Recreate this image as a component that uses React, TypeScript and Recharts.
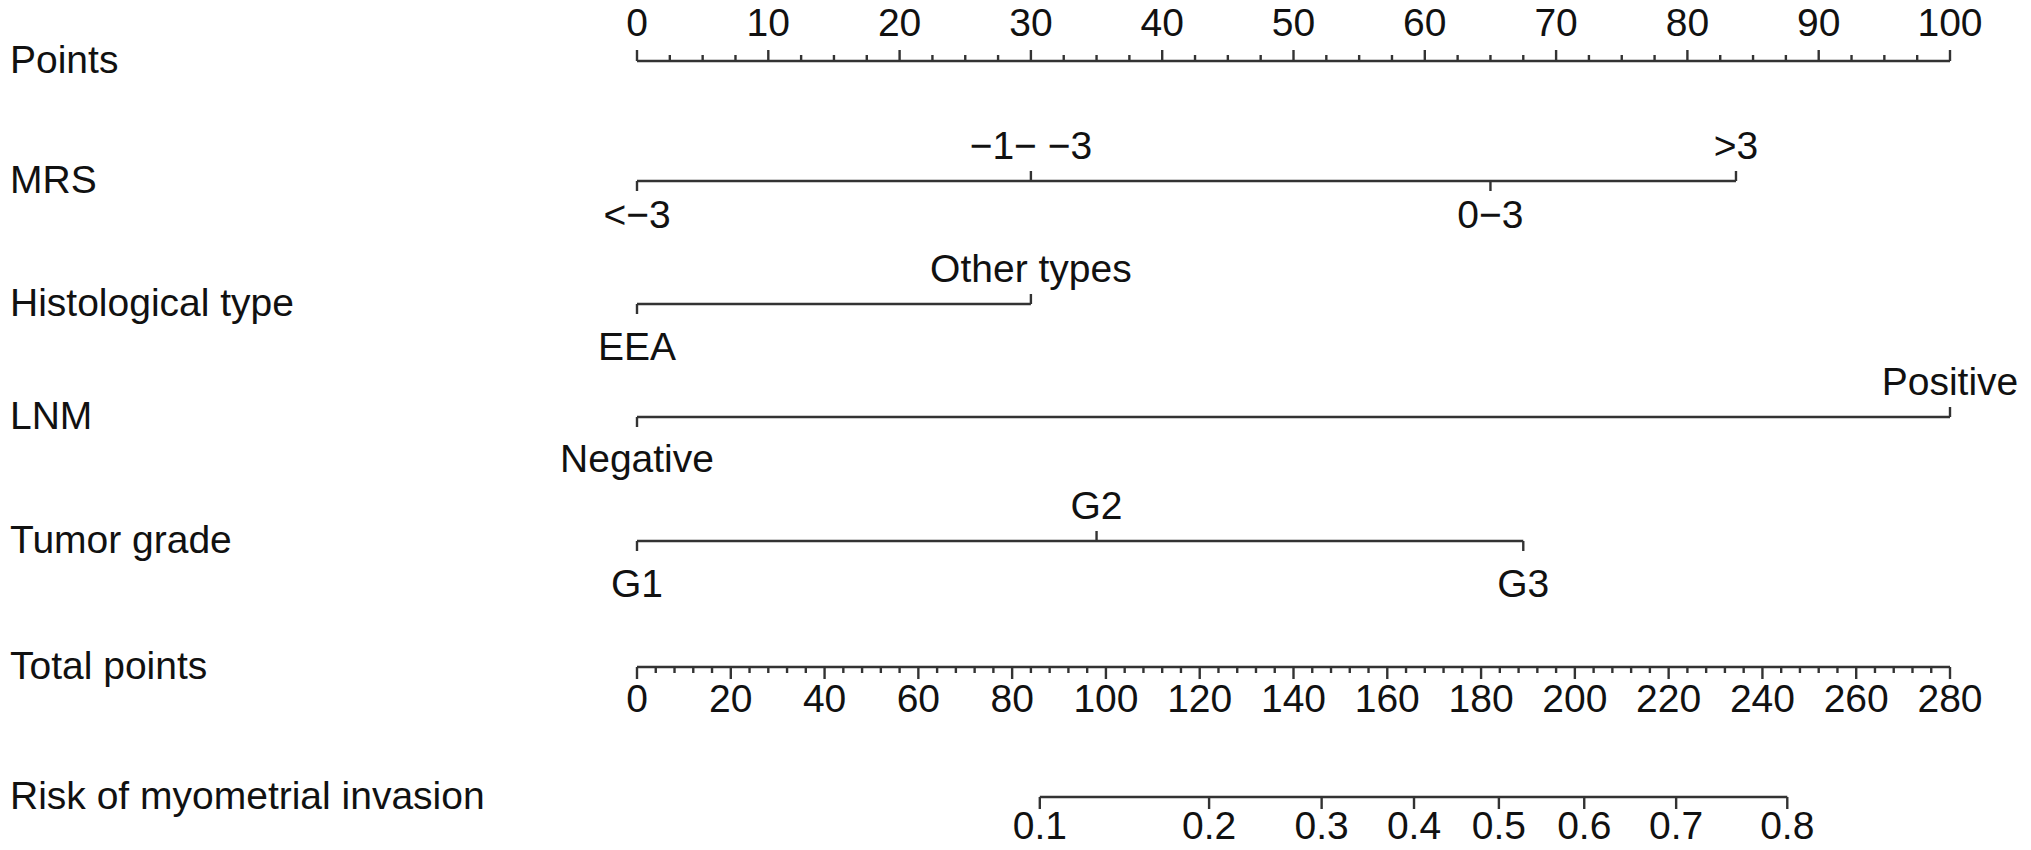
import { ComposedChart, Scatter, XAxis, YAxis } from 'recharts';

const rowNames = [
  'Points',
  'MRS',
  'Histological type',
  'LNM',
  'Tumor grade',
  'Total points',
  'Risk of myometrial invasion',
];

// Points scale: ticks every 2.5, labelled every 10
const pointTicks = Array.from({ length: 41 }, (_, i) => i * 2.5);

const mrsLevels = ['<−3', '−1− −3', '0−3', '>3'];
const mrsPoints = [0, 30, 65, 83.7];

const histLevels = ['EEA', 'Other types'];
const histPoints = [0, 30];

const lnmLevels = ['Negative', 'Positive'];
const lnmPoints = [0, 100];

const gradeLevels = ['G1', 'G2', 'G3'];
const gradePoints = [0, 35, 67.5];

// Total points scale: ticks every 4, labelled every 20
const totalTicks = Array.from({ length: 71 }, (_, i) => i * 4);

const riskValues = [0.1, 0.2, 0.3, 0.4, 0.5, 0.6, 0.7, 0.8];
const riskTotalPoints = [85.9, 122.0, 146.0, 165.7, 183.8, 202.0, 221.6, 245.3];

// layout
const ROW_Y = [0, 120, 243, 356, 480, 606, 736];
const BELOW_GAP = [0, 47, 56, 55, 56];
const INK = '#333';
const TEXT = '#111';
const FONT = "'Liberation Sans', Arial, sans-serif";
const FS = 39;
const SW = 2.4;

const levelData = (levels: string[], pts: number[], row: number) =>
  levels.map((label, i) => ({ x: pts[i], y: ROW_Y[row], label, up: i % 2 === 1, gap: BELOW_GAP[row] }));

const totalData = totalTicks.map((v) => ({ x: v, y: ROW_Y[5], label: v % 20 === 0 ? String(v) : '' }));
const riskData = riskValues.map((p, i) => ({ x: riskTotalPoints[i], y: ROW_Y[6], label: String(p) }));

const lineStyle = { stroke: INK, strokeWidth: SW };

const LevelMark = (props: any) => {
  const { cx, cy, payload } = props;
  const up = payload.up;
  return (
    <g>
      <line x1={cx} x2={cx} y1={cy} y2={up ? cy - 10 : cy + 10} stroke={INK} strokeWidth={SW} />
      <text x={cx} y={up ? cy - 22 : cy + payload.gap} textAnchor="middle" fontSize={FS} fontFamily={FONT} fill={TEXT}>
        {payload.label}
      </text>
    </g>
  );
};

const TotalMark = (props: any) => {
  const { cx, cy, payload } = props;
  const major = payload.label !== '';
  return (
    <g>
      <line x1={cx} x2={cx} y1={cy} y2={cy + (major ? 12 : 6)} stroke={INK} strokeWidth={SW} />
      {major && (
        <text x={cx} y={cy + 45} textAnchor="middle" fontSize={FS} fontFamily={FONT} fill={TEXT}>
          {payload.label}
        </text>
      )}
    </g>
  );
};

const RiskMark = (props: any) => {
  const { cx, cy, payload } = props;
  return (
    <g>
      <line x1={cx} x2={cx} y1={cy} y2={cy + 12} stroke={INK} strokeWidth={SW} />
      <text x={cx} y={cy + 42} textAnchor="middle" fontSize={FS} fontFamily={FONT} fill={TEXT}>
        {payload.label}
      </text>
    </g>
  );
};

const PointsTick = (props: any) => {
  const { x, y, payload } = props;
  const major = payload.value % 10 === 0;
  return (
    <g>
      <line x1={x} x2={x} y1={y} y2={y - (major ? 11 : 6)} stroke={INK} strokeWidth={SW} />
      {major && (
        <text x={x} y={y - 25} textAnchor="middle" fontSize={FS} fontFamily={FONT} fill={TEXT}>
          {payload.value}
        </text>
      )}
    </g>
  );
};

const RowName = (props: any) => {
  const { y, index } = props;
  return (
    <text x={10} y={y + 12} textAnchor="start" fontSize={FS} fontFamily={FONT} fill={TEXT}>
      {rowNames[index]}
    </text>
  );
};

export default function App() {
  return (
    <div style={{ position: 'absolute', left: 0, top: 0, background: '#fff' }}>
      <ComposedChart width={2031} height={850} margin={{ top: 0, right: 81, bottom: 53, left: 0 }}>
        <XAxis
          xAxisId="pts"
          orientation="top"
          type="number"
          dataKey="x"
          domain={[0, 100]}
          ticks={pointTicks}
          interval={0}
          height={61}
          tickSize={0}
          tickMargin={0}
          tickLine={false}
          axisLine={lineStyle}
          tick={<PointsTick />}
        />
        <XAxis xAxisId="tp" type="number" dataKey="x" domain={[0, 280]} hide />
        <YAxis
          type="number"
          dataKey="y"
          domain={[0, 736]}
          reversed
          ticks={ROW_Y}
          interval={0}
          width={637}
          tickSize={0}
          tickMargin={0}
          axisLine={false}
          tickLine={false}
          tick={<RowName />}
        />
        <Scatter xAxisId="pts" data={levelData(mrsLevels, mrsPoints, 1)} line={lineStyle} shape={<LevelMark />} isAnimationActive={false} />
        <Scatter xAxisId="pts" data={levelData(histLevels, histPoints, 2)} line={lineStyle} shape={<LevelMark />} isAnimationActive={false} />
        <Scatter xAxisId="pts" data={levelData(lnmLevels, lnmPoints, 3)} line={lineStyle} shape={<LevelMark />} isAnimationActive={false} />
        <Scatter xAxisId="pts" data={levelData(gradeLevels, gradePoints, 4)} line={lineStyle} shape={<LevelMark />} isAnimationActive={false} />
        <Scatter xAxisId="tp" data={totalData} line={lineStyle} shape={<TotalMark />} isAnimationActive={false} />
        <Scatter xAxisId="tp" data={riskData} line={lineStyle} shape={<RiskMark />} isAnimationActive={false} />
      </ComposedChart>
    </div>
  );
}
